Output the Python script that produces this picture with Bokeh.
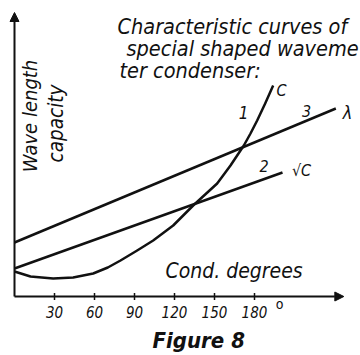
import math
from bokeh.plotting import figure
from bokeh.models import Label, Arrow, NormalHead, ColumnDataSource
from bokeh.core.properties import value
from bokeh.embed import file_html
from bokeh.resources import INLINE

# ---- data (condenser angle in degrees, arbitrary vertical units) ----
tick_degrees = [30, 60, 90, 120, 150, 180]
tick_labels = ["30", "60", "90", "120", "150", "180"]

capacity_deg = [0, 12, 29, 44, 59, 70, 79.5, 92, 104, 119, 134, 143, 152,
                162, 172, 177, 182, 188, 194]
capacity_val = [2.5, 2.0, 1.8, 1.9, 2.3, 2.9, 3.6, 4.6, 5.6, 7.1, 9.1, 10.2, 11.3,
                13.1, 15.1, 16.3, 17.6, 19.3, 21.1]

sqrt_c_deg = [0, 201]
sqrt_c_val = [2.8, 12.4]

wavelength_deg = [0, 241]
wavelength_val = [5.4, 18.8]

x_axis_end = 247
y_axis_end = 28.4

FONT = "DejaVu Sans Condensed"
INK = "#111111"

# page pixel -> data coordinates (for placing annotations)
X0, XS = 14.0, 40.0 / 30.0
Y0, YS = 296.0, 10.0
def dx(px):
    return (px - X0) / XS
def dy(py):
    return (Y0 - py) / YS

W, H = 360, 355
p = figure(width=W, height=H, x_range=(dx(0), dx(W)), y_range=(dy(H), dy(0)),
           output_backend="svg", toolbar_location=None,
           min_border=0, min_border_left=0, min_border_right=0,
           min_border_top=0, min_border_bottom=0)
p.axis.visible = False
p.grid.visible = False
p.outline_line_color = None
p.background_fill_color = "white"
p.border_fill_color = "white"

# axes
p.add_layout(Arrow(end=NormalHead(size=9, fill_color=INK, line_color=INK, line_width=1),
                   x_start=0, y_start=0, x_end=0, y_end=y_axis_end,
                   line_color=INK, line_width=2))
p.add_layout(Arrow(end=NormalHead(size=9, fill_color=INK, line_color=INK, line_width=1),
                   x_start=0, y_start=0, x_end=x_axis_end, y_end=0,
                   line_color=INK, line_width=2))
p.segment(x0=tick_degrees, y0=[-0.35] * len(tick_degrees),
          x1=tick_degrees, y1=[0.35] * len(tick_degrees),
          line_color=INK, line_width=1.5)
src = ColumnDataSource(dict(x=tick_degrees, y=[dy(311.8)] * len(tick_degrees), t=tick_labels))
p.text(x="x", y="y", text="t", source=src, text_font=value(FONT),
       text_font_style="italic", text_font_size="15px", text_color=INK,
       text_align="center", text_baseline="middle")

# curves
p.line(wavelength_deg, wavelength_val, line_color=INK, line_width=2.5)
p.line(sqrt_c_deg, sqrt_c_val, line_color=INK, line_width=2.5)
p.line(capacity_deg, capacity_val, line_color=INK, line_width=2.5, line_join="round")

def lab(text, px, py, size, align="left", style="italic", angle=0.0):
    p.add_layout(Label(x=dx(px), y=dy(py), text=text, text_font=FONT,
                       text_font_style=style, text_font_size=f"{size}px",
                       text_color=INK, text_align=align, text_baseline="middle",
                       angle=angle))

# title
lab("Characteristic curves of", 117, 25.6, 21.5)
lab("special shaped waveme", 126, 47.6, 21.5)
lab("ter condenser:", 119, 69.6, 21.5)

# axis titles
lab("Wave length", 29, 115.5, 20, align="center", angle=math.pi / 2)
lab("capacity", 55, 123, 20.5, align="center", angle=math.pi / 2)
lab("Cond. degrees", 165, 270.7, 21)
lab("o", 279, 303, 14, align="center", style="normal")

# curve labels
lab("1", 243, 112, 17, align="center")
lab("C", 281, 90, 16, align="center")
lab("3", 306, 110, 16, align="center")
lab("λ", 347, 112, 18, align="center")
lab("2", 263.5, 165, 16, align="center")
lab("√C", 301, 170, 16, align="center")

# caption
lab("Figure 8", 152, 340.4, 22, style="bold italic")

open("out.html", "w").write(file_html(p, INLINE))
